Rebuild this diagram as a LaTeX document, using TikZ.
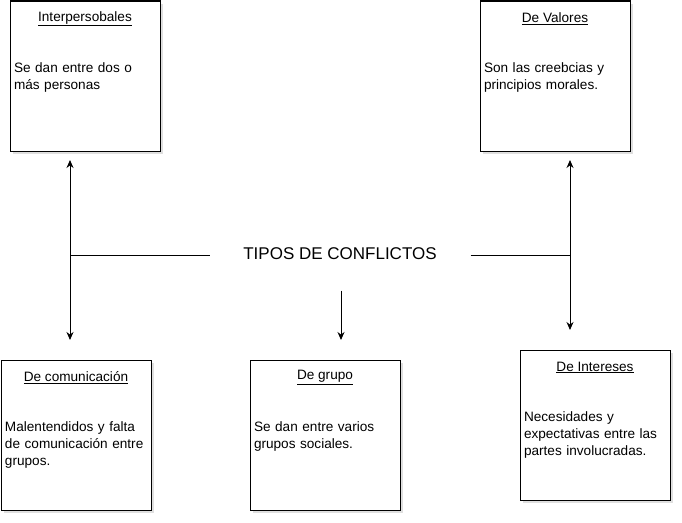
\documentclass[tikz,border=0pt]{standalone}
\usepackage{fontspec}
\setmainfont{Liberation Sans}
\usetikzlibrary{positioning,shadows,arrows.meta}

\begin{document}
\begin{tikzpicture}
          [x=1pt, y=-1pt, line width=1pt,
           >={Stealth[length=8pt,width=7pt]},
           box/.style={draw, fill=white, minimum width=150pt, minimum height=150pt, inner sep=0pt,
             drop shadow={opacity=0.25, shadow xshift=2.5pt, shadow yshift=-2.5pt}},
           boxtitle/.style={font=\fontsize{13.6}{16}\selectfont, inner sep=0pt},
           boxtext/.style={font=\fontsize{13.6}{17}\selectfont, align=left, inner sep=0pt,
             text width=148pt, anchor=north west}]
          \useasboundingbox (0,0) rectangle (682,522);

          % cajas
          \node (inter) [box] at (85,76) {};
          \node (valores) [box] at (555,76) {};
          \node (comun) [box] at (76,435) {};
          \node (grupo) [box] at (325,435) {};
          \node (intereses) [box] at (595,425) {};

          \node (tinter) [boxtitle] at ([yshift=-18pt]inter.north) {\underline{Interpersobales}};
          \node (xinter) [boxtext] at ([xshift=4pt,yshift=-62pt]inter.north west) {Se dan entre dos o\\más personas};
          \node (tvalores) [boxtitle] at ([yshift=-18pt]valores.north) {\underline{De Valores}};
          \node (xvalores) [boxtext] at ([xshift=4pt,yshift=-62pt]valores.north west) {Son las creebcias y\\principios morales.};
          \node (tcomun) [boxtitle] at ([yshift=-18pt]comun.north) {\underline{De comunicación}};
          \node (xcomun) [boxtext] at ([xshift=4pt,yshift=-62pt]comun.north west) {Malentendidos y falta\\de comunicación entre\\grupos.};
          \node (tgrupo) [boxtitle] at ([yshift=-18pt]grupo.north) {\underline{De grupo}};
          \node (xgrupo) [boxtext] at ([xshift=4pt,yshift=-62pt]grupo.north west) {Se dan entre varios\\grupos sociales.};
          \node (tintereses) [boxtitle] at ([yshift=-18pt]intereses.north) {\underline{De Intereses}};
          \node (xintereses) [boxtext] at ([xshift=4pt,yshift=-62pt]intereses.north west) {Necesidades y\\expectativas entre las\\partes involucradas.};

          % centro
          \node (tipos) [minimum width=260pt, minimum height=60pt, inner sep=0pt,
            font=\fontsize{17}{20}\selectfont] at (340,254) {TIPOS DE CONFLICTOS};

          \coordinate (lj) at (70,255);
          \coordinate (lup) at (70,160);
          \coordinate (ldown) at (70,340);
          \coordinate (rj) at (570,255);
          \coordinate (rup) at (570,160);
          \coordinate (rdown) at (570,330);
          \coordinate (cdown) at (341,340);

          \draw (tipos.west |- lj) -- (lj);
          \draw[<->] (lup) -- (ldown);
          \draw (tipos.east |- rj) -- (rj);
          \draw[<->] (rup) -- (rdown);
          \draw[->] ([yshift=-6pt]tipos.south -| cdown) -- (cdown);

        \end{tikzpicture}
\end{document}
